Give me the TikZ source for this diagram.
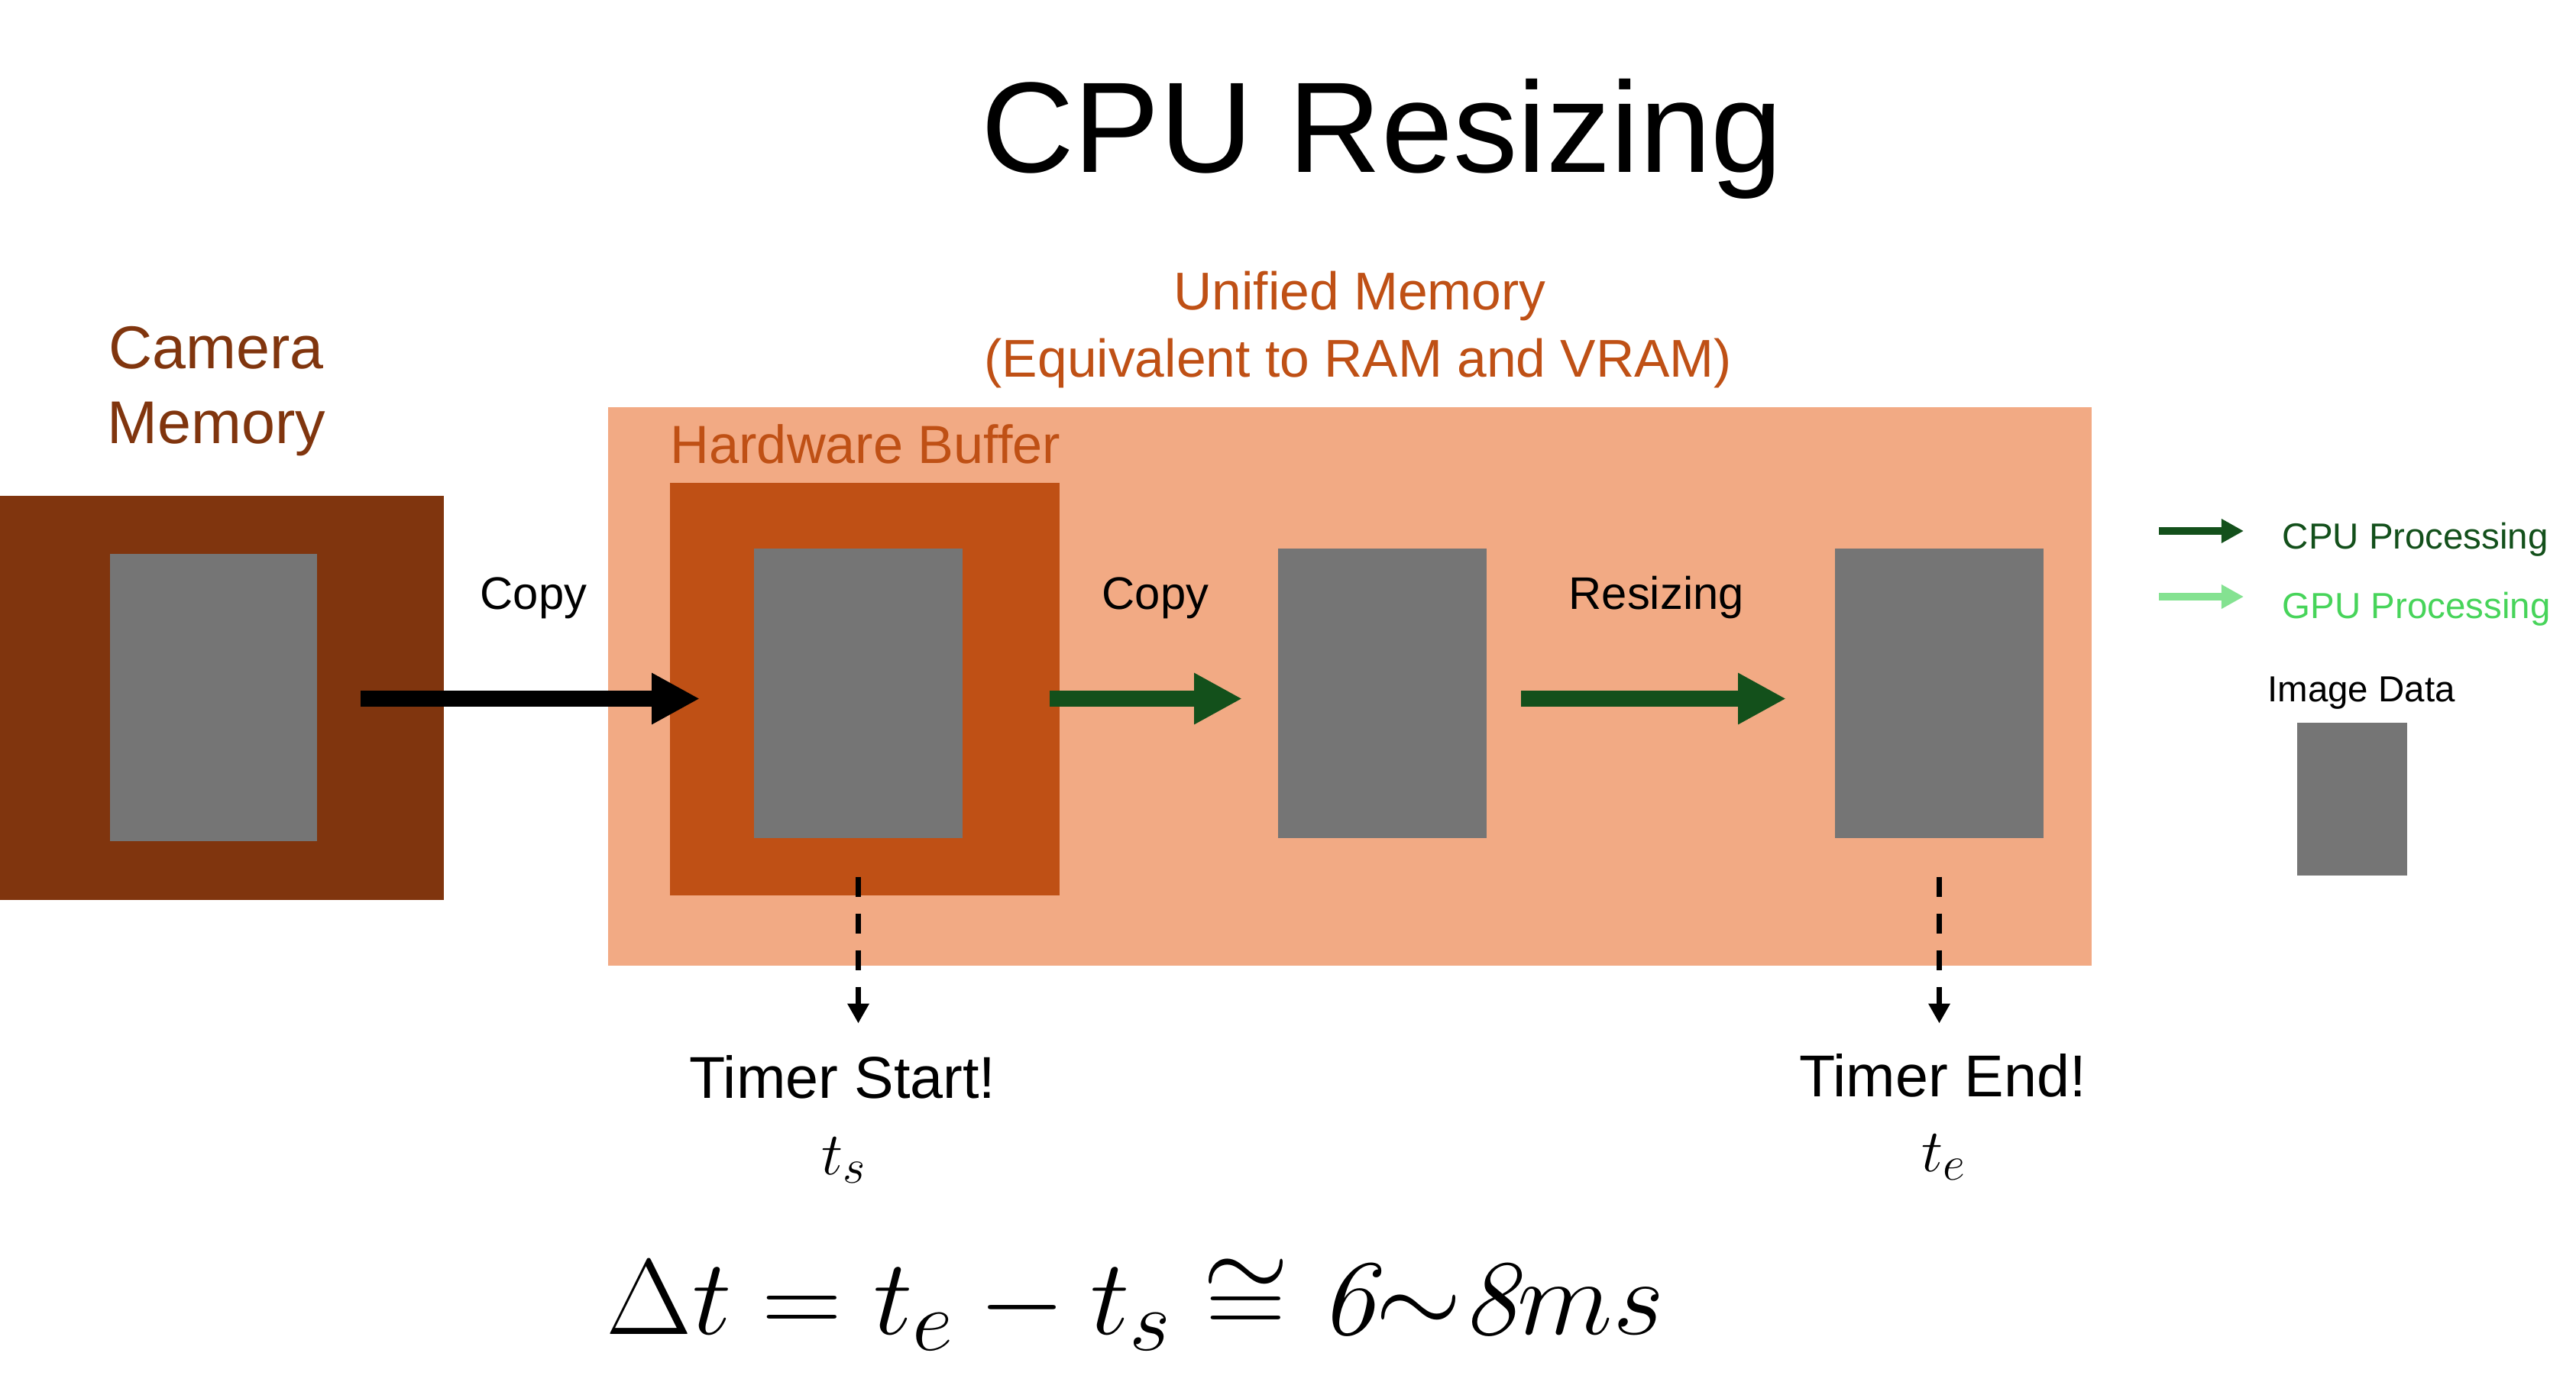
\documentclass[tikz,border=0pt]{standalone}
\usepackage{fix-cm}
\usepackage{graphicx}
\usepackage{fontspec}
\setmainfont{Liberation Sans}
\usetikzlibrary{arrows.meta,calc}
\DeclareMathSizes{40}{40}{32}{24}
\DeclareMathSizes{22.5}{22.5}{18}{13}
\definecolor{camC}{HTML}{80350E}
\definecolor{hbC}{HTML}{BF5015}
\definecolor{umC}{HTML}{F2AA84}
\definecolor{grayC}{HTML}{757575}
\definecolor{cpuC}{HTML}{13501B}
\definecolor{gpuArrow}{HTML}{84E291}
\definecolor{gpuText}{HTML}{47D45A}
\newcommand{\itdigit}[1]{\mbox{\fontfamily{lmr}\fontshape{it}\selectfont #1}}
\begin{document}
\begin{tikzpicture}[
 box/.style={draw=none, inner sep=0pt, outer sep=0pt},
 imgbox/.style={box, fill=grayC, minimum width=2.73cm, minimum height=3.79cm},
 bigarrow/.style={line width=5.97pt, -{Triangle[length=17.9pt,width=17.9pt]}},
 legarrow/.style={line width=2.85pt, -{Triangle[length=8.3pt,width=8.5pt]}},
 timearrow/.style={line width=2pt, dash pattern=on 7.4pt off 6.3pt, -{Triangle[length=7.4pt,width=7.7pt]}},
 lbl/.style={inner sep=0pt, anchor=base west},
 ctr/.style={inner sep=0pt, anchor=base},
]
\useasboundingbox (0,0) rectangle (33.72,-18.04);
\fill[white] (0,0) rectangle (33.72,-18.04);

% boxes
\node[box, fill=camC, minimum width=5.81cm, minimum height=5.29cm] (cam) at (2.905,-9.135) {};
\node[imgbox, minimum width=2.71cm, minimum height=3.76cm] (cg) at (2.795,-9.13) {};
\node[box, fill=umC, minimum width=19.42cm, minimum height=7.31cm] (um) at (17.67,-8.985) {};
\node[box, fill=hbC, minimum width=5.10cm, minimum height=5.40cm] (hb) at (11.32,-9.02) {};
\node[imgbox] (hg) at (11.235,-9.075) {};
\node[imgbox] (g2) at (18.095,-9.075) {};
\node[imgbox] (g3) at (25.385,-9.075) {};
\node[box, fill=grayC, minimum width=1.44cm, minimum height=2.00cm] (lg) at (30.79,-10.46) {};

% texts
\node[ctr, font=\fontsize{48}{58}\selectfont] (title) at (18.09,-2.25) {CPU Resizing};
\node[lbl, text=camC, font=\fontsize{22.5}{27.5}\selectfont] (camt1) at (1.42,-4.82) {Camera};
\node[lbl, text=camC, font=\fontsize{22.5}{27.5}\selectfont] (camt2) at (1.40,-5.80) {Memory};
\node[ctr, text=hbC, font=\fontsize{19.8}{24}\selectfont] (umt1) at (17.80,-4.05) {Unified Memory};
\node[ctr, text=hbC, font=\fontsize{19.8}{24}\selectfont] (umt2) at (17.78,-4.93) {(Equivalent to RAM and VRAM)};
\node[lbl, text=hbC, font=\fontsize{20}{24}\selectfont] (hbt) at (8.77,-6.06) {Hardware Buffer};
\node[lbl, font=\fontsize{17}{20}\selectfont] (cp1) at (6.28,-7.97) {Copy};
\node[lbl, font=\fontsize{17}{20}\selectfont] (cp2) at (14.42,-7.97) {Copy};
\node[lbl, font=\fontsize{17}{20}\selectfont] (rs) at (20.53,-7.97) {Resizing};
\node[ctr, font=\fontsize{22}{26}\selectfont] (tst) at (11.03,-14.37) {Timer Start!};
\node[ctr, font=\fontsize{22}{26}\selectfont] (ten) at (25.43,-14.35) {Timer End!};
\node[ctr, font=\fontsize{22.5}{27}\selectfont] (ts) at (11.05,-15.37) {$t_s$};
\node[ctr, font=\fontsize{22.5}{27}\selectfont] (te) at (25.45,-15.33) {$t_e$};
\node[lbl, font=\fontsize{40}{48}\selectfont] (eq) at (7.93,-17.46)
  {\scalebox{1.035}[1]{$\Delta t = t_e - t_s \cong \itdigit{6}{\sim}\itdigit{8}ms$}};

% legend
\node[lbl, text=cpuC, font=\fontsize{13.5}{16}\selectfont] (lcpu) at (29.87,-7.18) {CPU Processing};
\node[lbl, text=gpuText, font=\fontsize{13.5}{16}\selectfont] (lgpu) at (29.87,-8.09) {GPU Processing};
\node[ctr, font=\fontsize{13.5}{16}\selectfont] (limg) at (30.91,-9.18) {Image Data};
\coordinate (la1) at (28.26,-6.95);
\coordinate (la2) at (29.37,-6.95);
\coordinate (lb1) at (28.26,-7.81);
\coordinate (lb2) at (29.37,-7.81);
\draw[legarrow, cpuC] (la1) -- (la2);
\draw[legarrow, gpuArrow] (lb1) -- (lb2);

% connectors
\draw[bigarrow, black] ($(cg.east)+(0.57,-0.015)$) -- ($(hg.west)+(-0.71,-0.07)$);
\draw[bigarrow, cpuC] ($(hg.east)+(1.14,-0.07)$) -- ($(g2.west)+(-0.47,-0.07)$);
\draw[bigarrow, cpuC] ($(g2.east)+(0.45,-0.07)$) -- ($(g3.west)+(-0.64,-0.07)$);
\draw[timearrow] ($(hg.south)+(0,-0.505)$) -- ($(hg.south)+(0,-2.425)$);
\draw[timearrow] ($(g3.south)+(0,-0.505)$) -- ($(g3.south)+(0,-2.425)$);
\end{tikzpicture}
\end{document}
